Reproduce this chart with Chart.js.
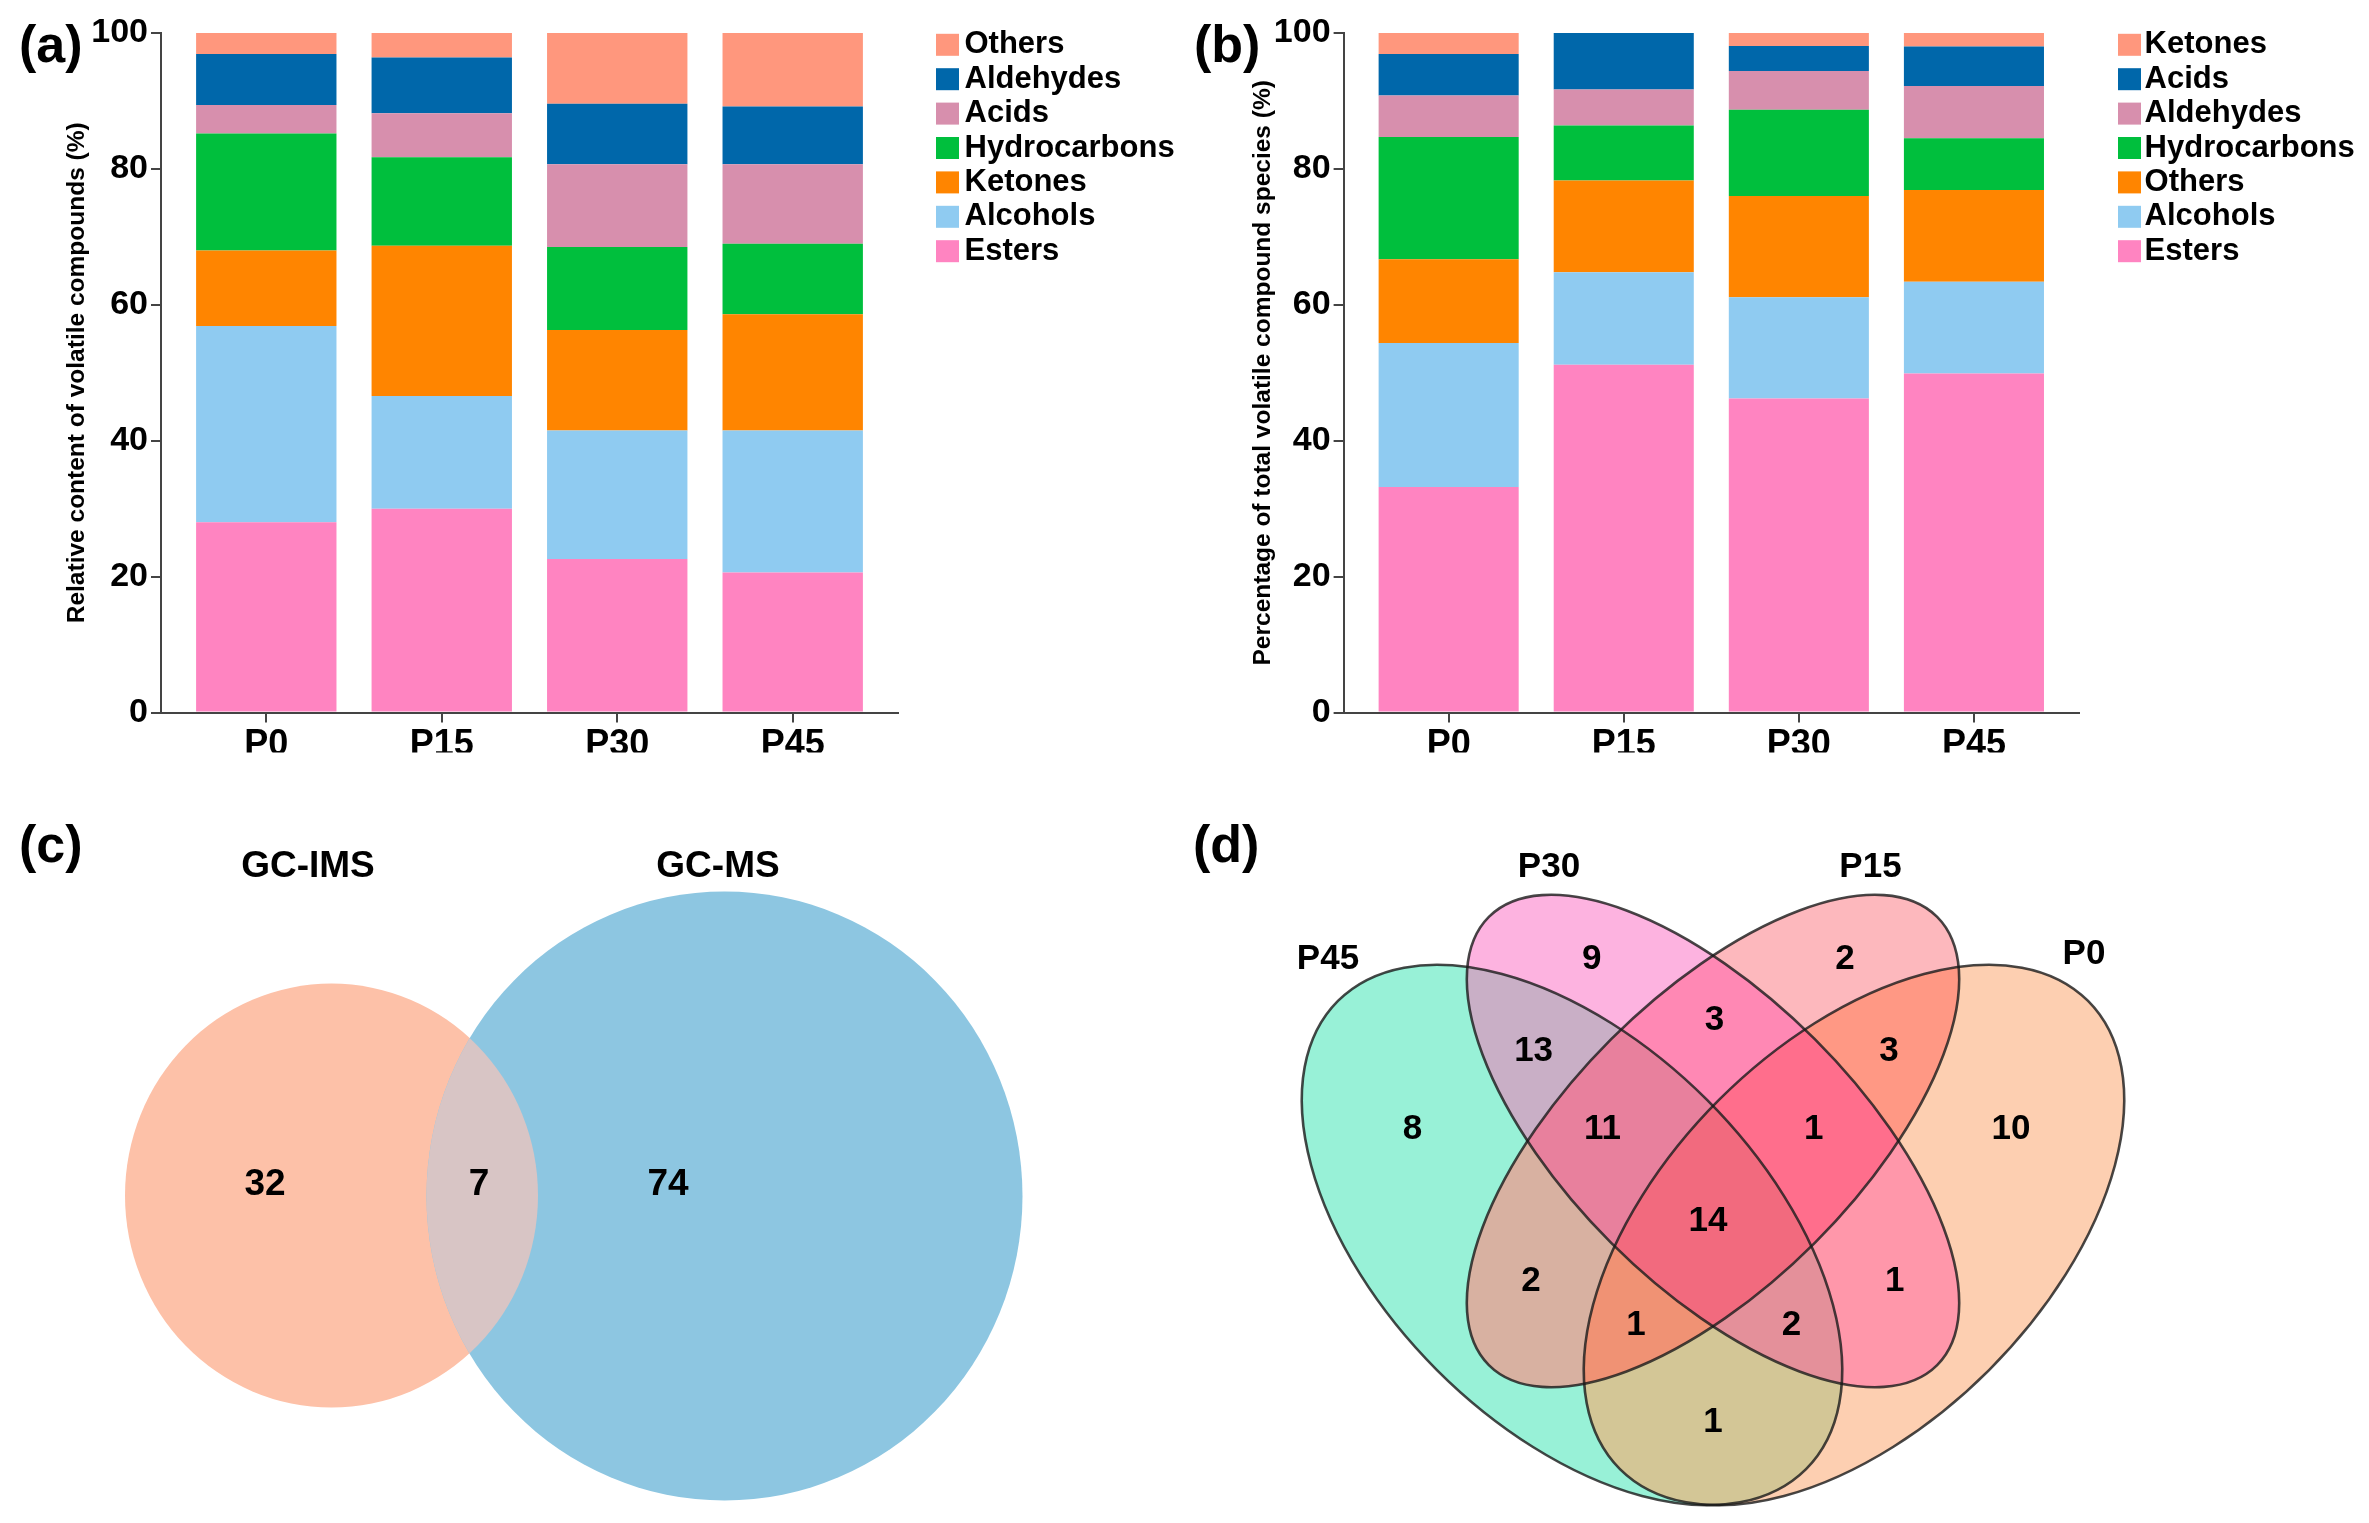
<!DOCTYPE html>
<html>
<head>
<meta charset="utf-8">
<script src="https://cdn.jsdelivr.net/npm/chart.js@4.4.1/dist/chart.umd.min.js"></script>
<style>
html,body{margin:0;padding:0;background:#fff;}
#wrap{position:relative;width:2369px;height:1523px;overflow:hidden;background:#fff;}
canvas{position:absolute;display:block;}
</style>
</head>
<body>
<div id="wrap">
<canvas id="ca" width="1180" height="775" style="left:0px;top:0px;width:1180px;height:775px"></canvas>
<canvas id="cb" width="1189" height="775" style="left:1180px;top:0px;width:1189px;height:775px"></canvas>
<canvas id="cc" width="1180" height="763" style="left:0px;top:760px;width:1180px;height:763px"></canvas>
<canvas id="cd" width="1189" height="763" style="left:1180px;top:760px;width:1189px;height:763px"></canvas>
</div>
<script>
// ---------------- DATA ----------------
const categories = ['P0', 'P15', 'P30', 'P45'];
const yTicks = [0, 20, 40, 60, 80, 100];

// (a) Relative content of volatile compounds (%), stacked bottom -> top
const a_names = ['Esters', 'Alcohols', 'Ketones', 'Hydrocarbons', 'Acids', 'Aldehydes', 'Others'];
const a_esters       = [28.0, 30.0, 22.6, 20.6];
const a_alcohols     = [28.9, 16.6, 18.9, 20.9];
const a_ketones      = [11.1, 22.1, 14.8, 17.1];
const a_hydrocarbons = [17.2, 13.0, 12.2, 10.4];
const a_acids        = [4.2, 6.5, 12.2, 11.7];
const a_aldehydes    = [7.5, 8.2, 8.9, 8.5];
const a_others       = [3.1, 3.6, 10.4, 10.8];

// (b) Percentage of total volatile compound species (%), stacked bottom -> top
const b_names = ['Esters', 'Alcohols', 'Others', 'Hydrocarbons', 'Aldehydes', 'Acids', 'Ketones'];
const b_esters       = [33.2, 51.2, 46.2, 49.9];
const b_alcohols     = [21.2, 13.6, 14.9, 13.5];
const b_others       = [12.3, 13.5, 14.9, 13.5];
const b_hydrocarbons = [18.0, 8.1, 12.7, 7.6];
const b_aldehydes    = [6.1, 5.3, 5.7, 7.7];
const b_acids        = [6.1, 8.3, 3.7, 5.8];
const b_ketones      = [3.1, 0.0, 1.9, 2.0];

// (c) Venn: GC-IMS vs GC-MS
const vennC_sets = ['GC-IMS', 'GC-MS'];
const vennC_regions = ['GC-IMS', 'GC-IMS&GC-MS', 'GC-MS'];
const vennC_counts = [32, 7, 74];

// (d) Venn: four storage times
const vennD_sets = ['P45', 'P30', 'P15', 'P0'];
const vennD_regions = ['P30', 'P15', 'P30&P15', 'P45&P30', 'P15&P0', 'P45', 'P45&P30&P15',
  'P30&P15&P0', 'P0', 'P45&P30&P15&P0', 'P45&P15', 'P30&P0', 'P45&P15&P0', 'P45&P30&P0', 'P45&P0'];
const vennD_counts = [9, 2, 3, 13, 3, 8, 11, 1, 10, 14, 2, 1, 1, 2, 1];

// ---------------- STYLE / LAYOUT ----------------
const FONT = '"Liberation Sans", Arial, Helvetica, sans-serif';
Chart.defaults.font.family = FONT;
Chart.defaults.color = '#000';
const AXIS = '#444444';
const stackColors = ['#FF84C1', '#8FCBF1', '#FF8500', '#00BF3D', '#D78FAD', '#0067AA', '#FF977D'];

// Venn geometry (panel-local units, drawn through the chart scales)
const vennC_layout = {
  w: 1180, h: 763,
  shapes: [
    {cx: 331.5, cy: 435.6, rx: 206.5, ry: 212, rot: 0, fill: '#FDC1A8'},
    {cx: 724.5, cy: 436, rx: 298, ry: 304.5, rot: 0, fill: '#8DC6E1'}
  ],
  overlapFill: '#D8C5C5',
  setPos: [[308, 107], [718, 107]],
  countPos: [[265, 425], [479, 425], [668, 425]]
};
const vennD_layout = {
  w: 1189, h: 763,
  shapes: [
    {cx: 392, cy: 475, rx: 331, ry: 191, rot: 45},
    {cx: 533, cy: 381, rx: 317, ry: 144, rot: 45},
    {cx: 533, cy: 381, rx: 317, ry: 144, rot: -45},
    {cx: 674, cy: 475, rx: 331, ry: 191, rot: -45}
  ],
  regionFill: {
    'P45': '#98F1D7', 'P30': '#FDB3E0', 'P15': '#FDB8BD', 'P0': '#FDCFB1',
    'P45&P30': '#C9AFC6', 'P30&P15': '#FF88B4', 'P15&P0': '#FF9884', 'P45&P0': '#D3C696',
    'P45&P15': '#D8B1A1', 'P30&P0': '#FF97AA',
    'P45&P30&P15': '#E8809D', 'P30&P15&P0': '#FF6E8C', 'P45&P15&P0': '#F09274', 'P45&P30&P0': '#E4909A',
    'P45&P30&P15&P0': '#F26A7E'
  },
  stroke: 'rgba(25,25,25,0.8)',
  setPos: [[148, 199], [369, 107], [690.5, 107], [904, 194.5]],
  countPos: [[411.7, 199], [665, 199], [534.4, 260], [353.6, 291.4], [709, 291], [232.4, 369],
    [422.4, 369], [633.7, 369], [831, 369], [528, 461], [351, 521], [714.7, 521], [456, 565],
    [611.5, 565], [533, 662]]
};

// ---------------- PLUGINS ----------------
const sideLegend = {
  id: 'sideLegend',
  afterDraw(chart, args, o) {
    if (!o || o.x === undefined) return;
    const ctx = chart.ctx;
    const ds = chart.data.datasets.slice().reverse();
    ctx.save();
    ctx.font = 'bold ' + o.fontSize + 'px ' + FONT;
    ctx.textBaseline = 'middle';
    ctx.textAlign = 'left';
    ds.forEach((d, i) => {
      const y = o.y0 + i * o.step;
      ctx.fillStyle = d.backgroundColor;
      ctx.fillRect(o.x, y - o.boxH / 2, o.boxW, o.boxH);
      ctx.fillStyle = '#000';
      ctx.fillText(d.label, o.textX, y);
    });
    ctx.restore();
  }
};

const panelTag = {
  id: 'panelTag',
  afterDraw(chart, args, o) {
    if (!o || !o.text) return;
    const ctx = chart.ctx;
    ctx.save();
    ctx.font = 'bold ' + o.size + 'px ' + FONT;
    ctx.fillStyle = '#000';
    ctx.textBaseline = 'alphabetic';
    ctx.textAlign = 'left';
    ctx.fillText(o.text, o.x, o.y);
    ctx.restore();
  }
};

const vennPlugin = {
  id: 'venn',
  beforeDatasetsDraw(chart, args, o) {
    if (!o || !o.layout) return;
    const {ctx} = chart;
    const xs = chart.scales.x, ys = chart.scales.y;
    const L = o.layout;
    const geo = (e) => {
      const cx = xs.getPixelForValue(e.cx), cy = ys.getPixelForValue(e.cy);
      const rx = Math.abs(xs.getPixelForValue(e.cx + e.rx) - cx);
      const ry = Math.abs(ys.getPixelForValue(e.cy + e.ry) - cy);
      return {cx, cy, rx, ry, r: e.rot * Math.PI / 180};
    };
    const addEllipse = (e) => {
      const g = geo(e);
      ctx.moveTo(g.cx + g.rx * Math.cos(g.r), g.cy + g.rx * Math.sin(g.r));
      ctx.ellipse(g.cx, g.cy, g.rx, g.ry, g.r, 0, Math.PI * 2);
    };
    const path = (e) => { ctx.beginPath(); addEllipse(e); ctx.closePath(); };
    const W = chart.width, H = chart.height;
    ctx.save();
    if (o.mode === 'two') {
      L.shapes.forEach(e => { path(e); ctx.fillStyle = e.fill; ctx.fill(); });
      ctx.save();
      path(L.shapes[0]); ctx.clip();
      path(L.shapes[1]); ctx.fillStyle = L.overlapFill; ctx.fill();
      ctx.restore();
    } else {
      o.regions.forEach((reg) => {
        const mask = reg.split('&').map(n => o.sets.indexOf(n));
        ctx.save();
        L.shapes.forEach((e, k) => {
          if (mask.includes(k)) { path(e); ctx.clip(); }
          else {
            ctx.beginPath(); ctx.rect(-20, -20, W + 40, H + 40);
            addEllipse(e); ctx.closePath();
            ctx.clip('evenodd');
          }
        });
        ctx.fillStyle = L.regionFill[reg];
        ctx.fillRect(-20, -20, W + 40, H + 40);
        ctx.restore();
      });
      L.shapes.forEach(e => {
        path(e);
        ctx.lineWidth = 2.6; ctx.strokeStyle = L.stroke; ctx.stroke();
      });
    }
    ctx.restore();
  },
  afterDatasetsDraw(chart, args, o) {
    if (!o || !o.layout) return;
    const {ctx} = chart;
    const xs = chart.scales.x, ys = chart.scales.y;
    const L = o.layout;
    ctx.save();
    ctx.fillStyle = '#000';
    ctx.textAlign = 'center';
    ctx.textBaseline = 'middle';
    ctx.font = 'bold ' + o.setSize + 'px ' + FONT;
    o.sets.forEach((s, i) => {
      ctx.fillText(s, xs.getPixelForValue(L.setPos[i][0]), ys.getPixelForValue(L.setPos[i][1]));
    });
    ctx.font = 'bold ' + o.countSize + 'px ' + FONT;
    const meta = chart.getDatasetMeta(0);
    meta.data.forEach((pt, i) => {
      ctx.fillText(String(o.counts[i]), pt.x, pt.y);
    });
    ctx.restore();
  }
};

// ---------------- CHART BUILDERS ----------------
function barChart(id, names, series, yTitle, o) {
  const datasets = names.map((n, k) => ({
    label: n,
    data: series[k].map((v, i) => ({x: i, y: v})),
    backgroundColor: stackColors[k],
    borderWidth: 0,
    barPercentage: 0.8,
    categoryPercentage: 1.0
  }));
  return new Chart(document.getElementById(id), {
    type: 'bar',
    data: {datasets},
    options: {
      responsive: false, animation: false, devicePixelRatio: 1, events: [],
      layout: {padding: {left: 0, top: 33, right: o.padRight, bottom: 775 - 712.6 - 40}},
      scales: {
        x: {
          type: 'linear', min: -0.6, max: 3.6, stacked: true, offset: false,
          afterBuildTicks: s => { s.ticks = categories.map((c, i) => ({value: i})); },
          afterFit: s => { s.height = 40; },
          ticks: {callback: v => categories[v], font: {size: 36, weight: 'bold'}, color: '#000',
            padding: 1, maxRotation: 0, autoSkip: false},
          grid: {offset: false, drawOnChartArea: false, drawTicks: true, tickLength: 10, color: AXIS, lineWidth: 2},
          border: {display: true, color: AXIS, width: 2}
        },
        y: {
          type: 'linear', min: 0, max: 100, stacked: true,
          afterBuildTicks: s => { s.ticks = yTicks.map(v => ({value: v})); },
          afterFit: s => { s.width = o.yWidth; },
          ticks: {font: {size: 34, weight: 'bold'}, color: '#000', padding: 3},
          grid: {drawOnChartArea: false, drawTicks: true, tickLength: 10, color: AXIS, lineWidth: 2},
          border: {display: true, color: AXIS, width: 2},
          title: {display: true, text: yTitle, font: {size: 24.5, weight: 'bold'}, color: '#000',
            padding: {top: o.titlePad, bottom: 0}}
        }
      },
      plugins: {
        legend: {display: false}, tooltip: {enabled: false},
        sideLegend: {x: o.legX, textX: o.legTextX, y0: 44.8, step: 34.4, boxW: 23, boxH: 22, fontSize: 31},
        panelTag: {text: o.tag, x: o.tagX, y: 62, size: 52}
      }
    },
    plugins: [sideLegend, panelTag]
  });
}

function vennChart(id, L, sets, regions, counts, mode, tag, tagX, setSize, countSize) {
  return new Chart(document.getElementById(id), {
    type: 'scatter',
    data: {datasets: [{
      label: 'counts',
      data: counts.map((c, i) => ({x: L.countPos[i][0], y: L.countPos[i][1]})),
      pointRadius: 0, pointHoverRadius: 0
    }]},
    options: {
      responsive: false, animation: false, devicePixelRatio: 1, events: [],
      layout: {padding: 0},
      scales: {
        x: {type: 'linear', min: 0, max: L.w, display: false},
        y: {type: 'linear', min: 0, max: L.h, reverse: true, display: false}
      },
      plugins: {
        legend: {display: false}, tooltip: {enabled: false},
        venn: {layout: L, sets, regions, counts, mode, setSize, countSize},
        panelTag: {text: tag, x: tagX, y: 102, size: 52}
      }
    },
    plugins: [vennPlugin, panelTag]
  });
}

barChart('ca', a_names,
  [a_esters, a_alcohols, a_ketones, a_hydrocarbons, a_acids, a_aldehydes, a_others],
  'Relative content of volatile compounds (%)',
  {padRight: 282, yWidth: 161, titlePad: 62.3, legX: 936, legTextX: 964.5, tag: '(a)', tagX: 19});

barChart('cb', b_names,
  [b_esters, b_alcohols, b_others, b_hydrocarbons, b_aldehydes, b_acids, b_ketones],
  'Percentage of total volatile compound species (%)',
  {padRight: 290, yWidth: 163.6, titlePad: 68.3, legX: 938, legTextX: 964.6, tag: '(b)', tagX: 14});

vennChart('cc', vennC_layout, vennC_sets, vennC_regions, vennC_counts, 'two', '(c)', 19, 37, 37);
vennChart('cd', vennD_layout, vennD_sets, vennD_regions, vennD_counts, 'four', '(d)', 13, 35, 35);
</script>
</body>
</html>
